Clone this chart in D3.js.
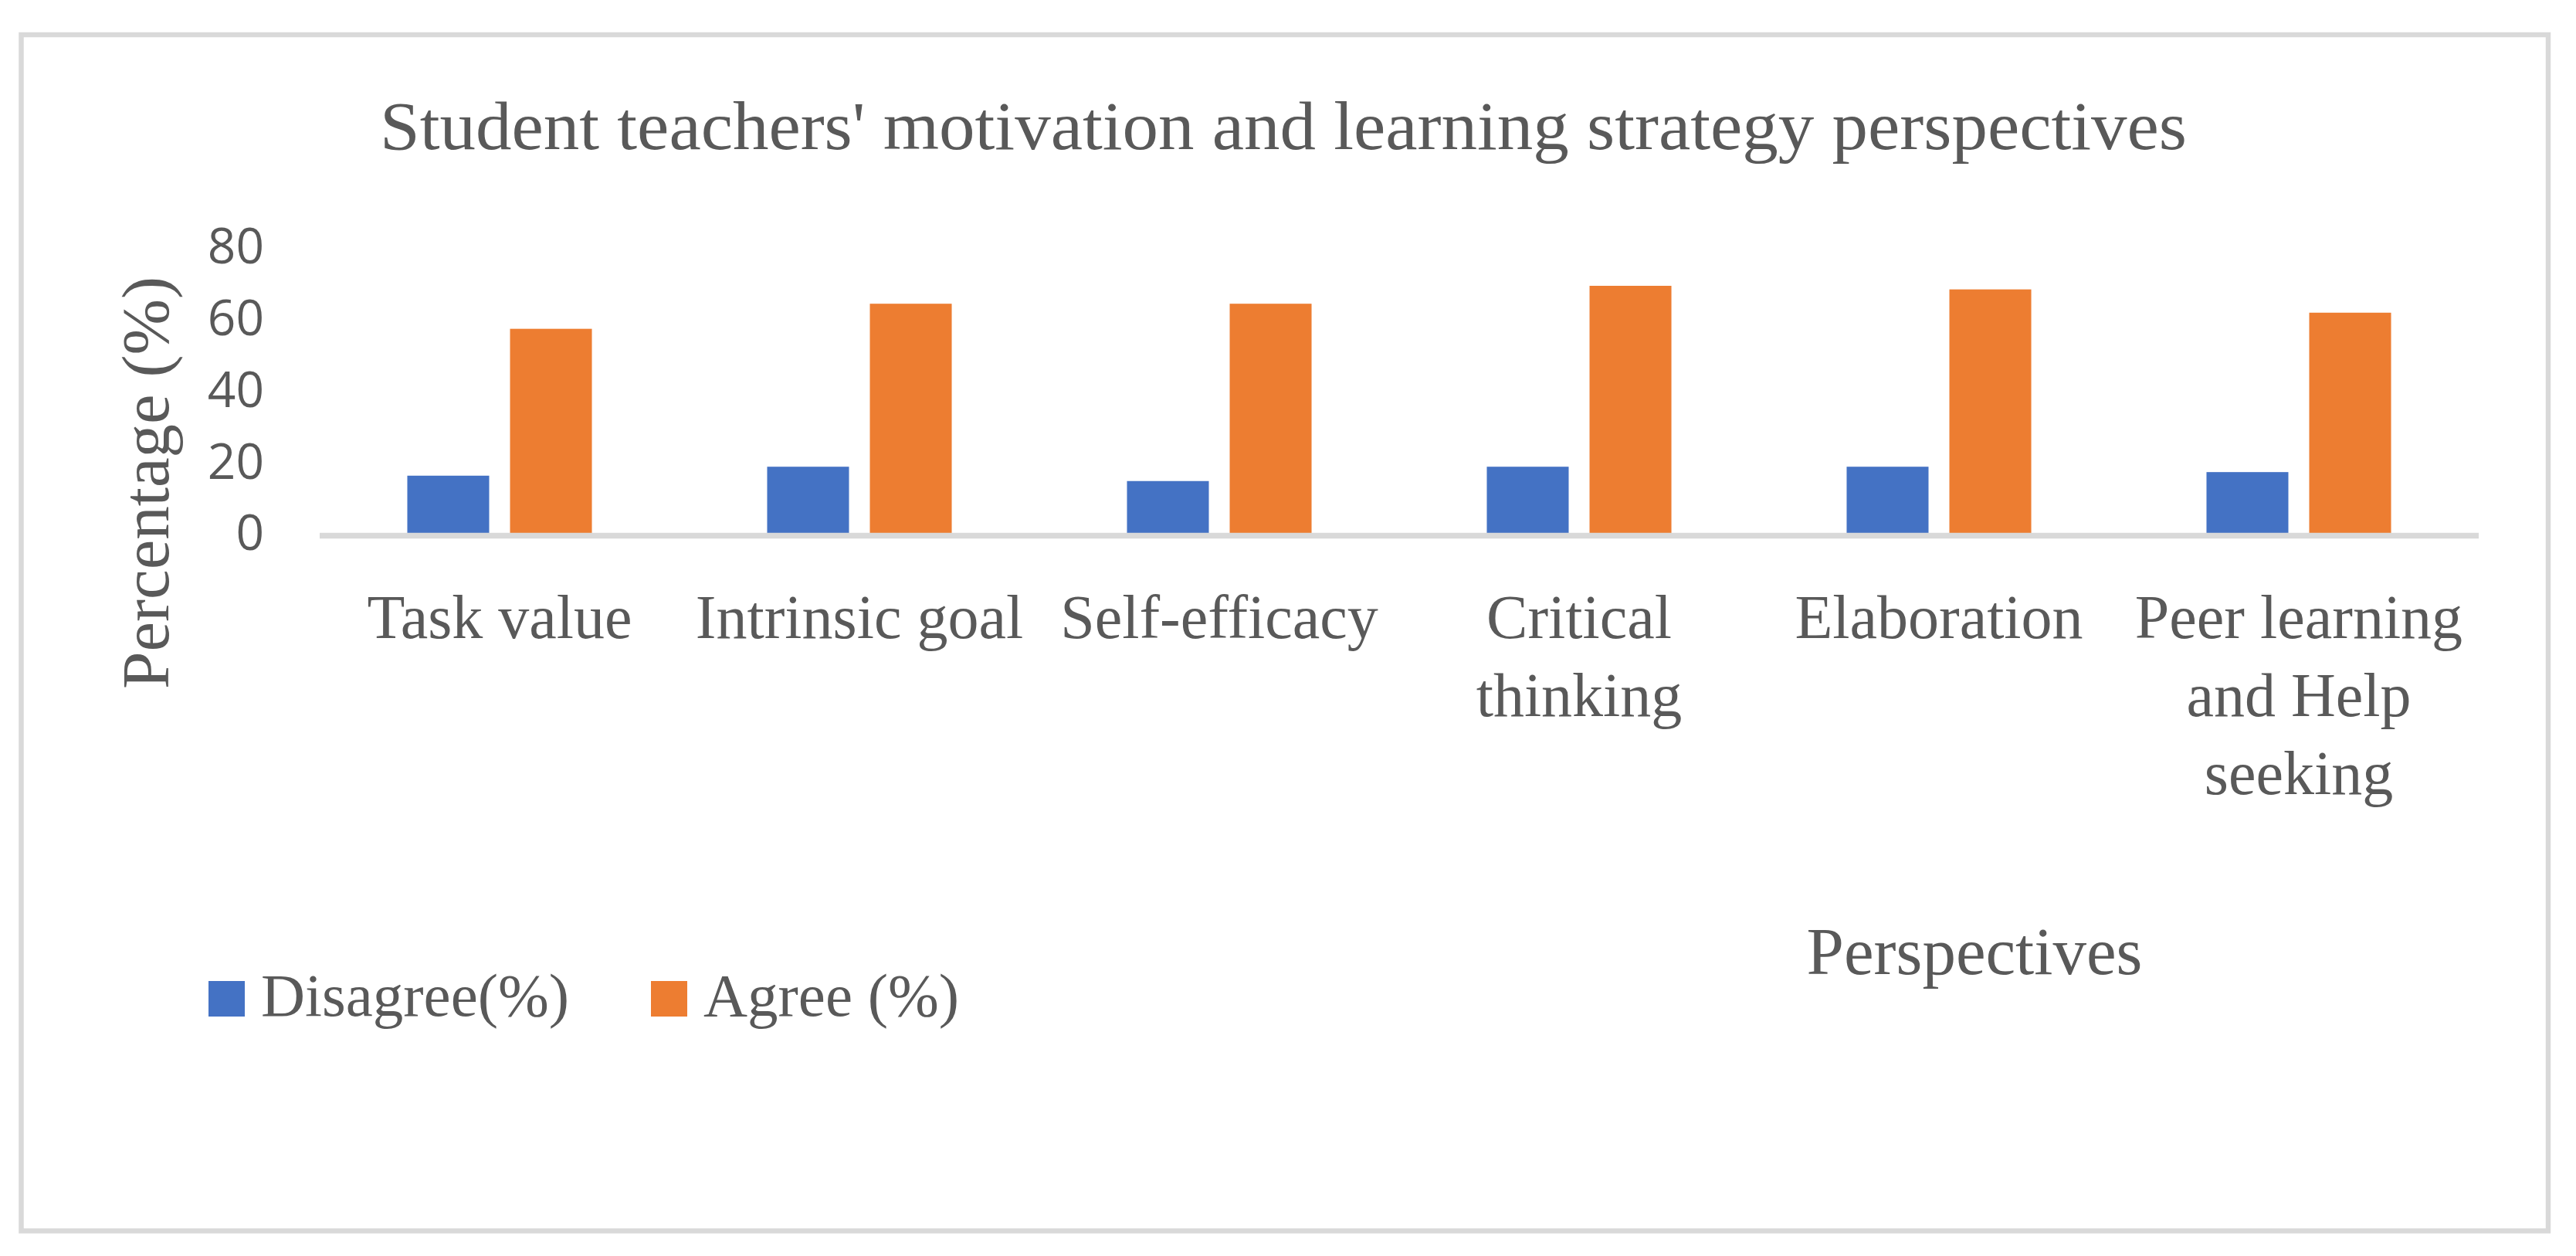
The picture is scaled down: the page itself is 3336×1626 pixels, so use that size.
<!DOCTYPE html>
<html>
<head>
<meta charset="utf-8">
<script src="https://cdn.jsdelivr.net/npm/d3@7"></script>
<style>
  body { margin: 0; background: #fff; }
  svg text { fill: #595959; }
  .serif { font-family: 'Liberation Serif', 'Times New Roman', serif; }
</style>
</head>
<body>
<svg id="chart" width="3336" height="1626"></svg>
<script>
/* global d3 */

var categories = ['Task value', 'Intrinsic goal', 'Self-efficacy',
  'Critical thinking', 'Elaboration', 'Peer learning and Help seeking'];
var series = ['Disagree(%)', 'Agree (%)'];
var disagree = [16, 18.5, 14.5, 18.5, 18.5, 17];
var agree = [57, 64, 64, 69, 68, 61.5];
var yTicks = [0, 20, 40, 60, 80];
var colors = ['#4472c4', '#ed7d31'];

var G = { // layout
  plot: { left: 414, right: 3210, zero: 690, top: 319 },
  grey: '#d9d9d9'
};

var svg = d3.select('#chart');

// outer frame
svg.append('rect')
  .attr('x', 27.5).attr('y', 45)
  .attr('width', 3300 - 27.5).attr('height', 1593.5 - 45)
  .style('fill', '#fff')
  .style('stroke', G.grey)
  .style('stroke-width', 6.5);

var x0 = d3.scaleBand()
  .domain(categories)
  .range([G.plot.left, G.plot.right])
  .padding(0);
var x1 = d3.scaleBand()
  .domain(series)
  .range([0, x0.bandwidth()])
  .paddingInner(0.203)
  .paddingOuter(0.853);
var y = d3.scaleLinear()
  .domain([0, 80])
  .range([G.plot.zero, G.plot.top]);

var rows = categories.map(function(c, i) {
  return { cat: c, values: [disagree[i], agree[i]] };
});

// bars
var groups = svg.append('g').selectAll('g')
  .data(rows)
  .enter().append('g')
  .attr('transform', function(d) { return 'translate(' + x0(d.cat) + ',0)'; });
groups.selectAll('rect')
  .data(function(d) {
    return d.values.map(function(v, j) { return { s: series[j], v: v, j: j }; });
  })
  .enter().append('rect')
  .attr('x', function(d) { return x1(d.s); })
  .attr('y', function(d) { return y(d.v); })
  .attr('width', x1.bandwidth())
  .attr('height', function(d) { return y(0) - y(d.v); })
  .style('fill', function(d) { return colors[d.j]; });

// category axis line
svg.append('line')
  .attr('x1', G.plot.left).attr('x2', G.plot.right)
  .attr('y1', y(0) + 3.5).attr('y2', y(0) + 3.5)
  .style('stroke', G.grey)
  .style('stroke-width', 7.5);

// value axis
var yAxis = svg.append('g')
  .attr('transform', 'translate(' + G.plot.left + ',1.5)')
  .call(d3.axisLeft(y).tickValues(yTicks).tickSize(0).tickPadding(72));
yAxis.select('.domain').remove();
yAxis.selectAll('text')
  .style('font-family', "'Open Sans', sans-serif")
  .style('font-size', '64px')
  .style('fill', '#595959');

// category labels, wrapped to the band width
var xLabels = svg.append('g').selectAll('text')
  .data(categories)
  .enter().append('text')
  .attr('class', 'serif')
  .attr('text-anchor', 'middle')
  .style('font-size', '80px')
  .attr('x', function(d) { return x0(d) + x0.bandwidth() / 2; })
  .attr('y', 826);
xLabels.each(function(d) {
  wrap(d3.select(this), d, x0.bandwidth(), 101);
});

function wrap(text, str, width, lineHeight) {
  var words = str.split(/\s+/);
  var cx = text.attr('x');
  var line = [];
  var tspan = text.append('tspan').attr('x', cx).attr('dy', 0);
  words.forEach(function(w) {
    line.push(w);
    tspan.text(line.join(' '));
    if (tspan.node().getComputedTextLength() > width && line.length > 1) {
      line.pop();
      tspan.text(line.join(' '));
      line = [w];
      tspan = text.append('tspan').attr('x', cx).attr('dy', lineHeight).text(w);
    }
  });
}

// title (the original face is wider than Times, so stretch to its width)
svg.append('text')
  .attr('class', 'serif')
  .attr('x', 1662).attr('y', 193)
  .attr('text-anchor', 'middle')
  .attr('textLength', 2340)
  .attr('lengthAdjust', 'spacingAndGlyphs')
  .style('font-size', '88px')
  .text("Student teachers' motivation and learning strategy perspectives");

// axis titles
svg.append('text')
  .attr('class', 'serif')
  .attr('transform', 'translate(218,625) rotate(-90)')
  .attr('text-anchor', 'middle')
  .style('font-size', '87px')
  .text('Percentage (%)');
svg.append('text')
  .attr('class', 'serif')
  .attr('x', 2557).attr('y', 1261)
  .attr('text-anchor', 'middle')
  .style('font-size', '87px')
  .text('Perspectives');

// legend
var legendX = [270, 843];
var legend = svg.append('g').selectAll('g')
  .data(series)
  .enter().append('g')
  .attr('transform', function(d, i) { return 'translate(' + legendX[i] + ',1270)'; });
legend.append('rect')
  .attr('width', 47).attr('height', 46)
  .style('fill', function(d, i) { return colors[i]; });
legend.append('text')
  .attr('class', 'serif')
  .attr('x', 68).attr('y', 45)
  .style('font-size', '79px')
  .text(function(d) { return d; });
</script>
</body>
</html>
